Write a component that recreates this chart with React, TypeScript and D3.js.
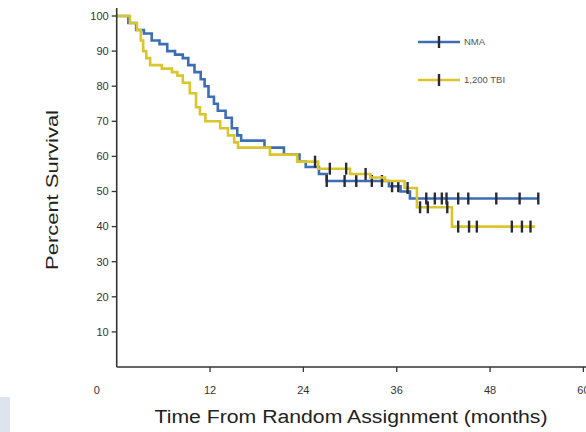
import React from 'react';
import * as d3 from 'd3';

// Kaplan-Meier step points (months, percent)
const nmaTimes = [0, 1.5, 2.5, 3.5, 4.5, 5.5, 6.5, 7.5, 8.5, 9.2, 10, 10.8, 11.3, 11.8, 12.5, 13, 14, 14.8, 15.5, 16, 19, 21.5, 23.5, 24.3, 26, 27, 35, 36.5, 37.7];
const nmaSurv = [100, 98, 96, 95, 93, 92, 90, 89, 88, 86, 84, 82, 80, 77, 75, 73, 71, 68, 66, 64.5, 62.5, 60.5, 58.5, 57, 55, 53, 51.5, 50, 48];
const nmaEnd = 54.2;
const nmaCensor = [27, 29.3, 30.8, 32.8, 34.1, 35.4, 36.2, 39.8, 40.9, 41.8, 42.4, 43.9, 45.2, 48.8, 51.8, 54.2];

const tbiTimes = [0, 1.7, 2.6, 3.1, 3.4, 3.8, 4.3, 5.8, 7.1, 7.8, 8.5, 9.4, 10.2, 10.7, 11.4, 13.3, 14.3, 15.1, 15.6, 19.7, 23.2, 25.9, 30, 32.6, 34.5, 37, 38.6, 43.1];
const tbiSurv = [100, 98, 96, 93, 90, 88, 86, 85, 84, 83, 81, 78, 74, 72, 70, 68, 66, 64, 62.5, 60.5, 58.5, 56.5, 55, 54, 53, 51, 45.5, 40];
const tbiEnd = 53.8;
const tbiCensor = [25.5, 27.4, 29.5, 32, 37.4, 39, 40, 42.5, 43.9, 45.3, 46.3, 50.8, 52.1, 53.2];

const yTicks = [10, 20, 30, 40, 50, 60, 70, 80, 90, 100];
const xTicks = [12, 24, 36, 48, 60];

const seriesNames = ['NMA', '1,200 TBI'];
const colors = ['#3d6eb4', '#d9c52c'];

const W = 586;
const H = 432;

const x = d3.scaleLinear().domain([0, 60]).range([116.7, 583.4]);
const y = d3.scaleLinear().domain([0, 100]).range([367, 16]);

const line = d3.line<[number, number]>()
  .x(d => x(d[0]))
  .y(d => y(d[1]))
  .curve(d3.curveStepAfter);

function stepPts(times: number[], surv: number[], end: number): [number, number][] {
  const pts: [number, number][] = times.map((t, i) => [t, surv[i]]);
  pts.push([end, surv[surv.length - 1]]);
  return pts;
}

function survAt(times: number[], surv: number[], t: number) {
  let v = surv[0];
  times.forEach((tt, i) => { if (tt <= t) v = surv[i]; });
  return v;
}

const series = [
  { times: nmaTimes, surv: nmaSurv, end: nmaEnd, censor: nmaCensor },
  { times: tbiTimes, surv: tbiSurv, end: tbiEnd, censor: tbiCensor },
];

export default function App() {
  const font = 'Liberation Sans, Arial, sans-serif';
  return (
    <svg width={W} height={H} style={{ position: 'absolute', left: 0, top: 0, background: '#fff' }}>
      <rect x={0} y={397} width={10} height={35} fill="#dde4ee" />

      {/* curves */}
      {series.map((s, i) => (
        <g key={i}>
          <path d={line(stepPts(s.times, s.surv, s.end)) || ''} fill="none" stroke={colors[i]} strokeWidth={2.6} />
          {s.censor.map((t, j) => (
            <line key={j} x1={x(t)} x2={x(t)} y1={y(survAt(s.times, s.surv, t)) - 6} y2={y(survAt(s.times, s.surv, t)) + 6}
              stroke="#2a2a35" strokeWidth={2.4} />
          ))}
        </g>
      ))}

      {/* y axis */}
      <line x1={x(0)} x2={x(0)} y1={8} y2={y(0)} stroke="#333" strokeWidth={1.6} />
      {yTicks.map(t => (
        <g key={t}>
          <line x1={x(0) - 5} x2={x(0)} y1={y(t)} y2={y(t)} stroke="#333" strokeWidth={1.3} />
          <text x={x(0) - 8} y={y(t)} dy="0.35em" textAnchor="end" fontSize={11} fontFamily={font} fill="#333">{t}</text>
        </g>
      ))}

      {/* x axis */}
      <line x1={x(0)} x2={W} y1={y(0)} y2={y(0)} stroke="#333" strokeWidth={1.6} />
      {xTicks.map(t => (
        <g key={t}>
          <line x1={x(t)} x2={x(t)} y1={y(0)} y2={y(0) + 5} stroke="#333" strokeWidth={1.3} />
          <text x={x(t)} y={390} dy="0.35em" textAnchor="middle" fontSize={11} fontFamily={font} fill="#333">{t}</text>
        </g>
      ))}
      <text x={x(0) - 20} y={390} dy="0.35em" textAnchor="middle" fontSize={11} fontFamily={font} fill="#333">0</text>

      <text x={351} y={417} dy="0.35em" textAnchor="middle" fontSize={18} fontFamily={font} fill="#222"
        textLength={393} lengthAdjust="spacingAndGlyphs">Time From Random Assignment (months)</text>
      <text transform="translate(52,190) rotate(-90)" dy="0.35em" textAnchor="middle" fontSize={16} fontFamily={font} fill="#222"
        textLength={160} lengthAdjust="spacingAndGlyphs">Percent Survival</text>

      {/* legend */}
      {seriesNames.map((n, i) => {
        const ly = 42 + i * 38;
        return (
          <g key={n}>
            <line x1={418} x2={460} y1={ly} y2={ly} stroke={colors[i]} strokeWidth={2.6} />
            <line x1={439} x2={439} y1={ly - 6} y2={ly + 6} stroke="#2a2a35" strokeWidth={2.4} />
            <text x={464} y={ly} dy="0.35em" fontSize={9.5} fontFamily={font} fill="#555">{n}</text>
          </g>
        );
      })}
    </svg>
  );
}
